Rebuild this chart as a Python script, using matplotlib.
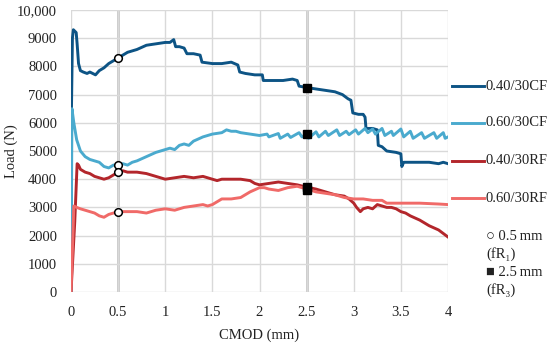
import matplotlib
matplotlib.use("Agg")
import matplotlib.pyplot as plt
from matplotlib.lines import Line2D

plt.rcParams['font.family'] = ['Liberation Serif', 'DejaVu Serif']

# 0.40/30CF
cf40_x = [0, 0.005, 0.015, 0.025, 0.04, 0.055, 0.065, 0.08, 0.1, 0.13, 0.17, 0.2, 0.23, 0.26,
          0.3, 0.35, 0.4, 0.45, 0.5, 0.55, 0.6, 0.65, 0.7, 0.8, 0.9, 1.0, 1.05, 1.09, 1.11,
          1.15, 1.2, 1.23, 1.3, 1.37, 1.39, 1.5, 1.6, 1.7, 1.77, 1.79, 1.85, 1.95, 2.03, 2.04,
          2.15, 2.25, 2.35, 2.4, 2.42, 2.5, 2.6, 2.7, 2.8, 2.88, 2.94, 2.97, 2.99, 3.05, 3.1,
          3.12, 3.13, 3.2, 3.25, 3.26, 3.3, 3.35, 3.45, 3.5, 3.51, 3.53, 3.6, 3.7, 3.8, 3.9,
          3.95, 4.0]
cf40_y = [0, 6500, 9000, 9300, 9250, 9200, 8800, 8100, 7850, 7800, 7750, 7800, 7750, 7700,
          7850, 7950, 8100, 8200, 8300, 8400, 8500, 8550, 8600, 8750, 8800, 8850, 8850, 8950, 8700,
          8700, 8650, 8450, 8450, 8400, 8150, 8100, 8100, 8150, 8050, 7800, 7750, 7700, 7700, 7500,
          7500, 7500, 7550, 7500, 7300, 7250, 7200, 7150, 7100, 7000, 6850, 6800, 6350, 6300, 6300,
          6200, 5800, 5800, 5750, 5200, 5150, 5000, 4950, 4900, 4450, 4600, 4600, 4600, 4600, 4550,
          4600, 4550]

# 0.60/30CF
cf60_x = [0, 0.01, 0.03, 0.06, 0.1, 0.15, 0.2, 0.25, 0.3, 0.35, 0.4, 0.45, 0.5, 0.55, 0.6,
          0.65, 0.7, 0.8, 0.9, 1.0, 1.05, 1.1, 1.15, 1.2, 1.25, 1.3, 1.4, 1.5, 1.6, 1.65, 1.7,
          1.75, 1.8, 1.9, 2.0, 2.08, 2.1, 2.2, 2.22, 2.3, 2.33, 2.42, 2.45, 2.5, 2.52, 2.6, 2.63,
          2.7, 2.73, 2.82, 2.85, 2.92, 2.95, 3.02, 3.05, 3.12, 3.15, 3.2, 3.23, 3.3, 3.33, 3.4,
          3.42, 3.5, 3.53, 3.6, 3.63, 3.72, 3.75, 3.85, 3.88, 3.95, 3.97, 4.0]
cf60_y = [0, 6500, 6000, 5400, 5000, 4800, 4700, 4650, 4600, 4450, 4400, 4500, 4500, 4550, 4500,
          4600, 4650, 4800, 4950, 5050, 5100, 5050, 5200, 5250, 5200, 5350, 5500, 5600, 5650, 5750, 5700,
          5700, 5650, 5600, 5550, 5600, 5500, 5620, 5450, 5600, 5480, 5650, 5500, 5600, 5450, 5680, 5500,
          5700, 5550, 5750, 5550, 5700, 5580, 5750, 5600, 5800, 5650, 5780, 5600, 5800, 5550, 5700,
          5550, 5780, 5500, 5700, 5450, 5650, 5450, 5650, 5450, 5650, 5450, 5500]

# 0.40/30RF
rf40_x = [0, 0.04, 0.065, 0.08, 0.1, 0.15, 0.2, 0.25, 0.3, 0.35, 0.4, 0.45, 0.5, 0.55, 0.6,
          0.7, 0.8, 0.9, 0.95, 1.0, 1.1, 1.2, 1.3, 1.4, 1.5, 1.55, 1.6, 1.7, 1.8, 1.9, 1.95, 2.0,
          2.1, 2.2, 2.3, 2.4, 2.5, 2.6, 2.7, 2.75, 2.8, 2.9, 2.95, 3.0, 3.03, 3.07, 3.1, 3.15,
          3.2, 3.25, 3.3, 3.35, 3.4, 3.45, 3.5, 3.55, 3.6, 3.7, 3.8, 3.9, 4.0]
rf40_y = [0, 2500, 4550, 4500, 4350, 4250, 4200, 4100, 4050, 4000, 4050, 4150, 4250, 4300, 4250,
          4250, 4200, 4100, 4050, 4000, 4050, 4100, 4050, 4100, 4000, 3950, 4000, 4000, 4000, 3950, 3850, 3800,
          3850, 3900, 3850, 3800, 3720, 3650, 3550, 3500, 3450, 3400, 3300, 3150, 3000, 2850, 2950, 3000,
          2950, 3100, 3050, 3000, 3000, 2950, 2850, 2800, 2700, 2550, 2350, 2200, 1950]

# 0.60/30RF
rf60_x = [0, 0.03, 0.06, 0.1, 0.15, 0.2, 0.25, 0.3, 0.35, 0.4, 0.45, 0.5, 0.6, 0.7, 0.8, 0.9,
          1.0, 1.1, 1.2, 1.3, 1.4, 1.45, 1.5, 1.55, 1.6, 1.7, 1.8, 1.85, 1.9, 2.0, 2.05, 2.1, 2.2,
          2.3, 2.4, 2.5, 2.6, 2.7, 2.8, 2.9, 3.0, 3.1, 3.2, 3.3, 3.35, 3.5, 3.7, 3.9, 4.0]
rf60_y = [0, 3050, 3000, 2950, 2900, 2850, 2800, 2700, 2650, 2750, 2800, 2850, 2850, 2850, 2800, 2900,
          2950, 2900, 3000, 3050, 3100, 3050, 3100, 3200, 3300, 3300, 3350, 3450, 3550, 3700, 3700, 3650, 3600,
          3700, 3750, 3650, 3550, 3500, 3450, 3350, 3300, 3300, 3250, 3250, 3150, 3150, 3150, 3120, 3100]

labels = ['0.40/30CF', '0.60/30CF', '0.40/30RF', '0.60/30RF']
colors = ['#0d5485', '#4aaace', '#b3262b', '#f06a68']

fr1_x = [0.5, 0.5, 0.5, 0.5]
fr1_y = [8300, 4500, 4250, 2850]
fr3_x = [2.5, 2.5, 2.5, 2.5]
fr3_y = [7250, 5600, 3720, 3620]

xticks = [0, 0.5, 1, 1.5, 2, 2.5, 3, 3.5, 4]
xticklabels = ['0', '0.5', '1', '1.5', '2', '2.5', '3', '3.5', '4']
yticks = list(range(0, 10001, 1000))
yticklabels = [str(v) for v in yticks[:-1]] + ['10,000']

fig = plt.figure(figsize=(5.5, 3.46), dpi=100)
ax = fig.add_axes([71 / 550, 1 - 292 / 346, 377 / 550, 282 / 346])

series = [(cf40_x, cf40_y), (cf60_x, cf60_y), (rf40_x, rf40_y), (rf60_x, rf60_y)]
for (xs, ys), c in zip(series, colors):
    ax.plot(xs, ys, color=c, lw=2.1, zorder=3, solid_joinstyle='round')

ax.plot(fr1_x, fr1_y, 'o', ms=5.5, mfc='white', mec='black', mew=1.1, zorder=5)
ax.plot(fr3_x, fr3_y, 's', ms=5.5, color='black', zorder=5)

ax.set_xlim(0, 4)
ax.set_ylim(0, 10000)
ax.set_xticks(xticks)
ax.set_xticklabels(xticklabels)
ax.set_yticks(yticks)
ax.set_yticklabels(yticklabels)
ax.tick_params(length=0, labelsize=10.5, colors='#222222')
ax.tick_params(axis='y', pad=10)
ax.tick_params(axis='x', pad=10)
ax.grid(True, color='#d9d9d9', lw=1.0, zorder=0)
for xv in [0.5, 2.5]:
    ax.axvline(xv, color='#bcbcbc', lw=1.8, zorder=1)
for s in ax.spines.values():
    s.set_visible(False)
ax.set_xlabel('CMOD (mm)', fontsize=10.5, labelpad=7, color='#222222')
ax.set_ylabel('Load (N)', fontsize=10.5, color='#222222')
ax.yaxis.set_label_coords(-53 / 377, 0.5)

# legend drawn by hand to the right of the plot
leg_y = [86, 123, 161, 198]
for py, c, lab in zip(leg_y, colors, labels):
    yf = 1 - py / 346
    fig.add_artist(Line2D([452 / 550, 484 / 550], [yf, yf], color=c, lw=2.1,
                          transform=fig.transFigure))
    fig.text(485 / 550, yf, lab, fontsize=10.5, va='center', ha='left', color='#222222')

notes = [(236, '\u25cb 0.5\u2009mm'), (254, '(fR\u2081)'), (272, '\u25a0 2.5\u2009mm'), (290, '(fR\u2083)')]
for py, t in notes:
    fig.text(486 / 550, 1 - py / 346, t, fontsize=10.5, va='center', ha='left',
             color='#222222', family=['Liberation Serif', 'DejaVu Serif'])

fig.savefig('out.png', dpi=100)
